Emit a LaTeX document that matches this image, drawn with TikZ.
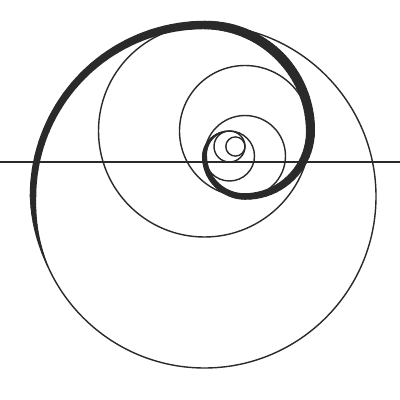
\documentclass[tikz,border=0pt]{standalone}
\definecolor{trazo}{HTML}{2A2A2A}
\tikzset{
  circulo/.style={draw=trazo, line width=1.4pt},
  espiral/.style={draw=trazo, line cap=round}
}
\begin{document}
\begin{tikzpicture}[x=1pt, y=1pt]
            \fill[white] (0,0) rectangle (400,400);
            \useasboundingbox (0,0) rectangle (400,400);

            % Centros de las circunferencias (razon aurea)
            \coordinate (c1) at (204.5, 203.5);
            \coordinate (c2) at (204.5, 269);
            \coordinate (c3) at (245, 269);
            \coordinate (c4) at (245, 244);
            \coordinate (c5) at (229.5, 244);
            \coordinate (c6) at (229.5, 253.5);
            \coordinate (c7) at (235.4, 253.5);

            % Linea horizontal
            \coordinate (izq) at (0, 238);
            \coordinate (der) at (400, 238);
            \draw[trazo, line width=1.4pt] (izq) -- (der);

            % Circunferencias
            \draw[circulo] (c1) circle[radius=171.5pt];
            \draw[circulo] (c2) circle[radius=106pt];
            \draw[circulo] (c3) circle[radius=65.5pt];
            \draw[circulo] (c4) circle[radius=40.5pt];
            \draw[circulo] (c5) circle[radius=25pt];
            \draw[circulo] (c6) circle[radius=15.5pt];
            \draw[circulo] (c7) circle[radius=9.6pt];

            % Espiral (arcos de grosor variable)
            \foreach \cx/\cy/\r/\ai/\af/\wi/\wf in {
                204.5/203.5/171.5/204/180/1/6.5,
                204.5/203.5/171.5/180/90/6.5/8.5,
                204.5/269/106/90/45/8.5/10,
                204.5/269/106/45/0/10/9,
                245/269/65.5/0/-90/9/6.5,
                245/244/40.5/-90/-180/6.5/5,
                229.5/244/25/-180/-262/5/1}
            {
                \foreach \k in {0,...,19} {
                    \pgfmathsetmacro\aa{\ai+(\af-\ai)*\k/20}
                    \pgfmathsetmacro\ab{\ai+(\af-\ai)*(\k+1)/20}
                    \pgfmathsetmacro\w{\wi+(\wf-\wi)*(\k+0.5)/20}
                    \draw[espiral, line width=\w pt] (\cx,\cy) ++(\aa:\r pt)
                        arc[start angle=\aa, end angle=\ab, radius=\r pt];
                }
            }
        \end{tikzpicture}
\end{document}
